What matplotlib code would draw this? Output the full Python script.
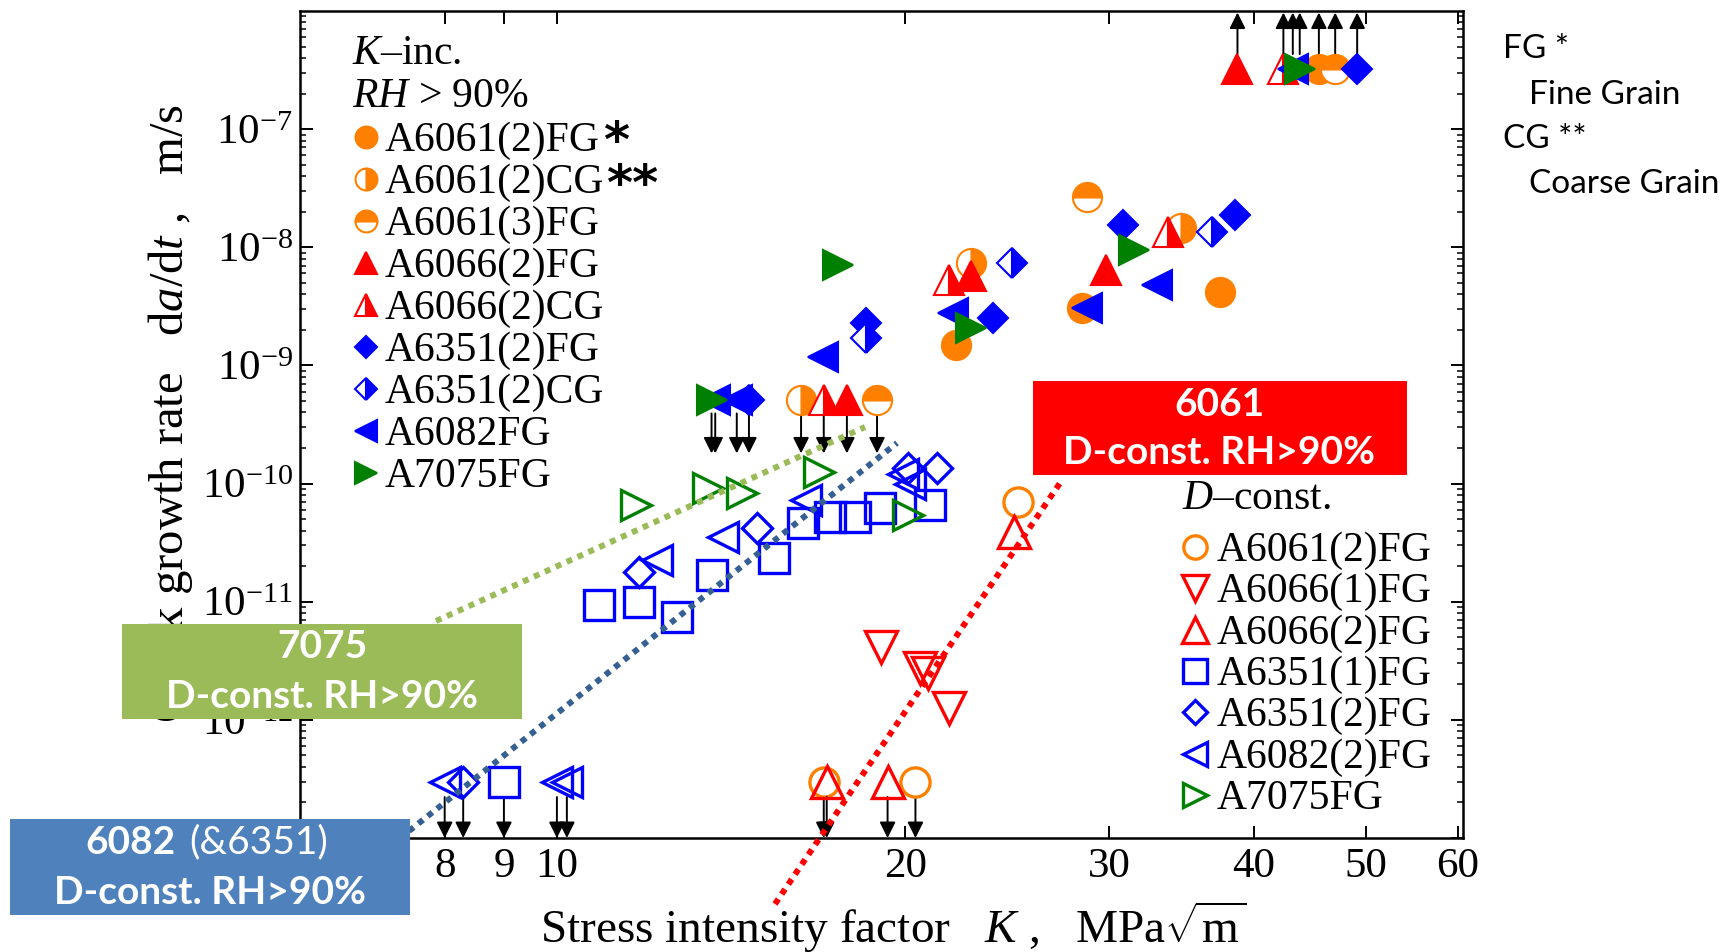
import matplotlib
matplotlib.use('Agg')
import matplotlib.pyplot as plt
from matplotlib.lines import Line2D
from matplotlib.patches import Rectangle
from matplotlib.ticker import FixedLocator, FixedFormatter, NullLocator, LogLocator

plt.rcParams['font.family'] = ['Liberation Serif', 'DejaVu Serif']
plt.rcParams['mathtext.fontset'] = 'custom'
plt.rcParams['mathtext.rm'] = 'Liberation Serif'
plt.rcParams['mathtext.it'] = 'Liberation Serif:italic'
plt.rcParams['mathtext.bf'] = 'Liberation Serif:bold'

W, H = 1733, 952

ORANGE = '#ff8000'
RED = '#ff0000'
BLUE = '#0000ff'
GREEN = '#008000'

# ---- K-increasing tests, RH > 90 %  (3.2e-7 = off scale, 5.1e-10 = upper limit) ----
kinc_6061_2fg_K = [37.4, 22.1, 28.4, 45.5]
kinc_6061_2fg_v = [4.2e-9, 1.49e-9, 3.06e-9, 3.2e-7]
kinc_6061_2cg_K = [34.6, 22.8, 16.25]
kinc_6061_2cg_v = [1.45e-8, 7.3e-9, 5.1e-10]
kinc_6061_3fg_K = [28.7, 18.9, 47.0]
kinc_6061_3fg_v = [2.66e-8, 5.1e-10, 3.2e-7]
kinc_6066_2fg_K = [38.7, 29.8, 22.8, 17.8]
kinc_6066_2fg_v = [3.2e-7, 6.4e-9, 5.7e-9, 5.1e-10]
kinc_6066_2cg_K = [42.4, 33.7, 21.8, 17.0]
kinc_6066_2cg_v = [3.2e-7, 1.35e-8, 5.3e-9, 5.1e-10]
kinc_6351_2fg_K = [49.1, 38.5, 30.8, 23.8, 18.5]
kinc_6351_2fg_v = [3.2e-7, 1.87e-8, 1.54e-8, 2.5e-9, 2.3e-9]
kinc_6351_2cg_K = [36.8, 24.7, 18.5, 14.65]
kinc_6351_2cg_v = [1.35e-8, 7.3e-9, 1.7e-9, 5.1e-10]
kinc_6082_K = [43.2, 33.0, 28.7, 22.0, 16.96, 13.7, 14.3]
kinc_6082_v = [3.2e-7, 4.8e-9, 3.06e-9, 2.8e-9, 1.18e-9, 5.1e-10, 5.1e-10]
kinc_7075_K = [43.8, 31.5, 22.8, 17.5, 13.6]
kinc_7075_v = [3.2e-7, 9.5e-9, 2.07e-9, 7.1e-9, 5.1e-10]

# ---- D-constant tests (3.0e-13 = below detection) ----
dc_6061_2fg_K = [25.0, 17.0, 20.4]
dc_6061_2fg_v = [7.0e-11, 3.0e-13, 3.0e-13]
dc_6066_1fg_K = [19.06, 20.6, 20.9, 21.8]
dc_6066_1fg_v = [4.15e-12, 2.75e-12, 2.5e-12, 1.26e-12]
dc_6066_2fg_K = [24.8, 17.1, 19.3]
dc_6066_2fg_v = [3.9e-11, 3.0e-13, 3.0e-13]
dc_6351_1fg_K = [10.87, 11.77, 12.7, 13.6, 15.4, 16.3, 17.2, 18.1, 19.0, 21.0, 9.0]
dc_6351_1fg_v = [9.4e-12, 1.0e-11, 7.4e-12, 1.69e-11, 2.35e-11, 4.6e-11, 5.2e-11,
                 5.2e-11, 6.2e-11, 6.6e-11, 3.0e-13]
dc_6351_2fg_K = [11.77, 14.9, 20.1, 21.3, 8.3]
dc_6351_2fg_v = [1.79e-11, 4.2e-11, 1.36e-10, 1.36e-10, 3.0e-13]
dc_6082_2fg_K = [12.2, 13.9, 16.4, 19.9, 20.2, 8.0, 10.0, 10.2]
dc_6082_2fg_v = [2.26e-11, 3.5e-11, 7.3e-11, 1.2e-10, 1.0e-10, 3.0e-13, 3.0e-13, 3.0e-13]
dc_7075_K = [11.7, 13.5, 14.45, 16.85, 20.1]
dc_7075_v = [6.6e-11, 9.2e-11, 8.3e-11, 1.26e-10, 5.4e-11]

x_ticks = [8, 9, 10, 20, 30, 40, 50, 60]
y_ticks = [1e-13, 1e-12, 1e-11, 1e-10, 1e-9, 1e-8, 1e-7]

# series: label, K, v, marker, colour, fillstyle, size
kinc = [
    ('A6061(2)FG', kinc_6061_2fg_K, kinc_6061_2fg_v, 'o', ORANGE, 'full', 21),
    ('A6061(2)CG', kinc_6061_2cg_K, kinc_6061_2cg_v, 'o', ORANGE, 'right', 21),
    ('A6061(3)FG', kinc_6061_3fg_K, kinc_6061_3fg_v, 'o', ORANGE, 'top', 21),
    ('A6066(2)FG', kinc_6066_2fg_K, kinc_6066_2fg_v, '^', RED, 'full', 21),
    ('A6066(2)CG', kinc_6066_2cg_K, kinc_6066_2cg_v, '^', RED, 'right', 21),
    ('A6351(2)FG', kinc_6351_2fg_K, kinc_6351_2fg_v, 'D', BLUE, 'full', 15.5),
    ('A6351(2)CG', kinc_6351_2cg_K, kinc_6351_2cg_v, 'D', BLUE, 'right', 15.5),
    ('A6082FG', kinc_6082_K, kinc_6082_v, '<', BLUE, 'full', 22),
    ('A7075FG', kinc_7075_K, kinc_7075_v, '>', GREEN, 'full', 22),
]
dconst = [
    ('A6061(2)FG', dc_6061_2fg_K, dc_6061_2fg_v, 'o', ORANGE, 'none', 21),
    ('A6066(1)FG', dc_6066_1fg_K, dc_6066_1fg_v, 'v', RED, 'none', 23),
    ('A6066(2)FG', dc_6066_2fg_K, dc_6066_2fg_v, '^', RED, 'none', 23),
    ('A6351(1)FG', dc_6351_1fg_K, dc_6351_1fg_v, 's', BLUE, 'none', 21),
    ('A6351(2)FG', dc_6351_2fg_K, dc_6351_2fg_v, 'D', BLUE, 'none', 15),
    ('A6082(2)FG', dc_6082_2fg_K, dc_6082_2fg_v, '<', BLUE, 'none', 22),
    ('A7075FG', dc_7075_K, dc_7075_v, '>', GREEN, 'none', 22),
]


def fx(px):
    return px / W


def fy(py):
    return 1 - py / H


def mstyle(m, c, fs, ms):
    d = dict(marker=m, markersize=ms, markeredgecolor=c, linestyle='none')
    if fs == 'none':
        d.update(markerfacecolor='none', markeredgewidth=2.4)
    else:
        d.update(markerfacecolor=c, markerfacecoloralt='white', fillstyle=fs,
                 markeredgewidth=1.5)
    return d


fig = plt.figure(figsize=(W / 100, H / 100), dpi=100)
ax = fig.add_axes([fx(300), fy(838), (1463 - 300) / W, (838 - 11) / H])
ax.set_xscale('log')
ax.set_yscale('log')
ax.set_xlim(6, 60.6)
ax.set_ylim(1e-13, 1e-6)

arrow = dict(arrowstyle='-|>,head_length=0.4,head_width=0.2', color='k', lw=1.4,
             mutation_scale=24, shrinkA=0, shrinkB=0)

for lab, K, v, m, c, fs, ms in dconst:
    for k, val in zip(K, v):
        if val < 4e-13:
            ax.annotate('', xy=(k, 1.0e-13), xytext=(k, val / 1.35),
                        arrowprops=arrow, annotation_clip=False)
    ax.plot(K, v, **mstyle(m, c, fs, ms), zorder=3)

for lab, K, v, m, c, fs, ms in kinc:
    for k, val in zip(K, v):
        if val > 3e-7:
            ax.annotate('', xy=(k, 0.97e-6), xytext=(k, val * 1.35),
                        arrowprops=arrow, annotation_clip=False)
        elif val < 6e-10:
            ax.annotate('', xy=(k, 1.8e-10), xytext=(k, val / 1.3),
                        arrowprops=arrow, annotation_clip=False)
    ax.plot(K, v, **mstyle(m, c, fs, ms), zorder=4)

ax.xaxis.set_major_locator(FixedLocator(x_ticks))
ax.xaxis.set_major_formatter(FixedFormatter([str(t) for t in x_ticks]))
ax.xaxis.set_minor_locator(NullLocator())
ax.yaxis.set_major_locator(FixedLocator(y_ticks))
ax.yaxis.set_minor_locator(LogLocator(base=10, subs=range(2, 10), numticks=20))
ax.tick_params(which='both', direction='in', top=True, right=True, labelsize=31)
ax.tick_params(which='major', length=9, width=1.4)
ax.tick_params(which='minor', length=4.5, width=1.1)
ax.tick_params(axis='x', pad=7)
ax.tick_params(axis='y', pad=5)
for s in ax.spines.values():
    s.set_linewidth(1.8)

fig.text(fx(893), fy(927), r'Stress intensity factor   $K$ ,   MPa$\sqrt{\mathrm{m}}$',
         fontsize=34, ha='center', va='center')
fig.text(fx(171), fy(104), r'Crack growth rate   d$a$/d$t$ ,   m/s',
         fontsize=35, ha='center', va='top', rotation=90)

# ---- legends (K-inc. upper left, D-const. lower right) ----
fig.text(fx(352), fy(64), r'$K$–inc.', fontsize=30, ha='left', va='baseline')
fig.text(fx(352), fy(107), r'$RH$ > 90%', fontsize=30, ha='left', va='baseline')
for i, (lab, K, v, m, c, fs, ms) in enumerate(kinc):
    yc = 137 + 42 * i
    fig.add_artist(Line2D([fx(366)], [fy(yc)], transform=fig.transFigure,
                          **mstyle(m, c, fs, ms * 0.75)))
    fig.text(fx(385), fy(yc + 14), lab, fontsize=30, ha='left', va='baseline')
fig.text(fx(603), fy(157), '*', fontsize=36, fontweight='bold',
         family='DejaVu Sans', ha='left', va='baseline')
fig.text(fx(606), fy(200), '**', fontsize=36, fontweight='bold',
         family='DejaVu Sans', ha='left', va='baseline')

fig.text(fx(1182), fy(509), r'$D$–const.', fontsize=30, ha='left', va='baseline')
for i, (lab, K, v, m, c, fs, ms) in enumerate(dconst):
    yc = 547 + 41.3 * i
    fig.add_artist(Line2D([fx(1195)], [fy(yc)], transform=fig.transFigure,
                          **mstyle(m, c, fs, ms * 0.8)))
    fig.text(fx(1217), fy(yc + 14), lab, fontsize=30, ha='left', va='baseline')

# ---- note at right ----
for txt, x0, y0 in [('FG *', 1503, 49), ('Fine Grain', 1529, 95),
                    ('CG **', 1503, 139), ('Coarse Grain', 1529, 184)]:
    fig.text(fx(x0), fy(y0), txt, fontsize=24, family='Lato', ha='left', va='center')

# ---- dotted trend lines and labelled boxes ----
for (x0, y0, x1, y1), c in [((436, 621, 865, 427), '#9bbb59'),
                            ((409, 831, 897, 443), '#376092'),
                            ((775, 904, 1060, 483), RED)]:
    fig.add_artist(Line2D([fx(x0), fx(x1)], [fy(y0), fy(y1)], transform=fig.transFigure,
                          color=c, lw=4.3, linestyle=(0, (1, 1)), dash_capstyle='butt',
                          zorder=5))

for (x0, y0, x1, y1), c in [((1033, 381, 1407, 475), RED),
                            ((122, 624, 522, 719), '#9bbb59'),
                            ((10, 819, 410, 915), '#4f81bd')]:
    fig.add_artist(Rectangle((fx(x0), fy(y1)), (x1 - x0) / W, (y1 - y0) / H,
                             transform=fig.transFigure, facecolor=c, edgecolor='none',
                             zorder=6))

bold = dict(fontsize=28, family='Lato', fontweight='bold', color='white', zorder=7)
fig.text(fx(1219), fy(404), '6061', ha='center', va='center', **bold)
fig.text(fx(1219), fy(453), 'D-const. RH>90%', ha='center', va='center', **bold)
fig.text(fx(322), fy(647), '7075', ha='center', va='center', **bold)
fig.text(fx(322), fy(697), 'D-const. RH>90%', ha='center', va='center', **bold)
fig.text(fx(176), fy(842), '6082', ha='right', va='center', **bold)
fig.text(fx(189), fy(842), '(&6351)', ha='left', va='center',
         **{**bold, 'fontweight': 'normal'})
fig.text(fx(210), fy(892), 'D-const. RH>90%', ha='center', va='center', **bold)

fig.savefig('out.png', dpi=100)
